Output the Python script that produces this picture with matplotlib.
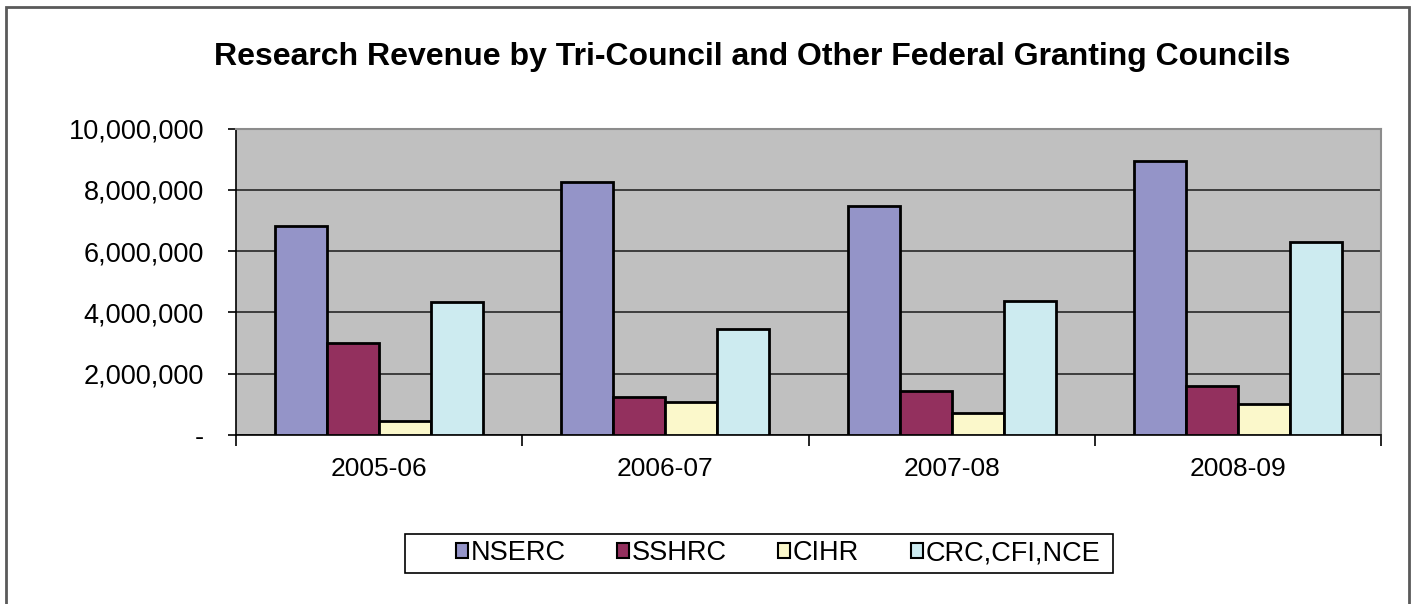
import numpy as np
import matplotlib.pyplot as plt
from matplotlib.patches import Patch, Rectangle
from matplotlib.ticker import FuncFormatter, MultipleLocator

plt.rcParams['font.family'] = ['Liberation Sans', 'DejaVu Sans']

# data
years = ['2005-06', '2006-07', '2007-08', '2008-09']
nserc = [6830000, 8260000, 7460000, 8930000]
sshrc = [2990000, 1230000, 1450000, 1610000]
cihr = [470000, 1090000, 730000, 1010000]
crc_cfi_nce = [4330000, 3450000, 4370000, 6290000]

series = ['NSERC', 'SSHRC', 'CIHR', 'CRC,CFI,NCE']
colors = ['#9494C8', '#93305E', '#FBF8CB', '#CDEBF0']
values = [nserc, sshrc, cihr, crc_cfi_nce]

W, H = 1411, 604
fig = plt.figure(figsize=(W / 100, H / 100), dpi=100)

# outer chart border
fig.add_artist(Rectangle((6 / W, -0.1), (1409 - 6) / W, 1.1 - 7 / H,
                         transform=fig.transFigure, fill=False,
                         edgecolor='#5a5a5a', linewidth=2))

ax = fig.add_axes([236 / W, 1 - 435 / H, (1381 - 236) / W, (435 - 128.5) / H])
ax.set_facecolor('#C0C0C0')

x = np.arange(len(years))
bw = 1 / 5.5
for i, (name, vals, c) in enumerate(zip(series, values, colors)):
    ax.bar(x + (i - 1.5) * bw, vals, width=bw, color=c, edgecolor='black',
           linewidth=2, label=name, zorder=3)

ax.set_xlim(-0.5, len(years) - 0.5)
ax.set_ylim(0, 10000000)
ax.yaxis.set_major_locator(MultipleLocator(2000000))
ax.yaxis.set_major_formatter(FuncFormatter(lambda v, p: '-' if v == 0 else f'{int(v):,}'))
ax.grid(axis='y', color='#333333', linewidth=1.3, zorder=1)

ax.set_xticks(x)
ax.set_xticklabels(years)
ax.set_xticks(np.arange(-0.5, len(years), 1), minor=True)
ax.tick_params(axis='x', which='major', length=0, pad=16, labelsize=19)
ax.tick_params(axis='x', which='minor', length=8, width=1.2, direction='out')
ax.tick_params(axis='y', length=6, width=1.2, direction='out', pad=17, labelsize=19.5)

for s in ['top', 'right']:
    ax.spines[s].set_color('#8c8c8c')
    ax.spines[s].set_linewidth(1.5)
for s in ['left', 'bottom']:
    ax.spines[s].set_color('black')
    ax.spines[s].set_linewidth(1.2)

fig.text(752 / W, 1 - 57 / H,
         'Research Revenue by Tri-Council and Other Federal Granting Councils',
         ha='center', va='center', fontsize=23, fontweight='bold')

# legend box (drawn separately, entries sit right of centre in the original)
fig.add_artist(Rectangle((405 / W, 1 - 573 / H), (1113 - 405) / W, (573 - 534) / H,
                         transform=fig.transFigure, facecolor='white',
                         edgecolor='black', linewidth=1.2))
handles = [Patch(facecolor=c, edgecolor='black', linewidth=1.5) for c in colors]
leg = fig.legend(handles, series, loc='center', ncol=4,
                 bbox_to_anchor=(778 / W, 1 - 553 / H), fontsize=19.5,
                 handlelength=0.45, handleheight=0.45, handletextpad=0.1,
                 columnspacing=1.9, frameon=False,
                 borderpad=0.25, borderaxespad=0)

fig.savefig('out.png', dpi=100)
